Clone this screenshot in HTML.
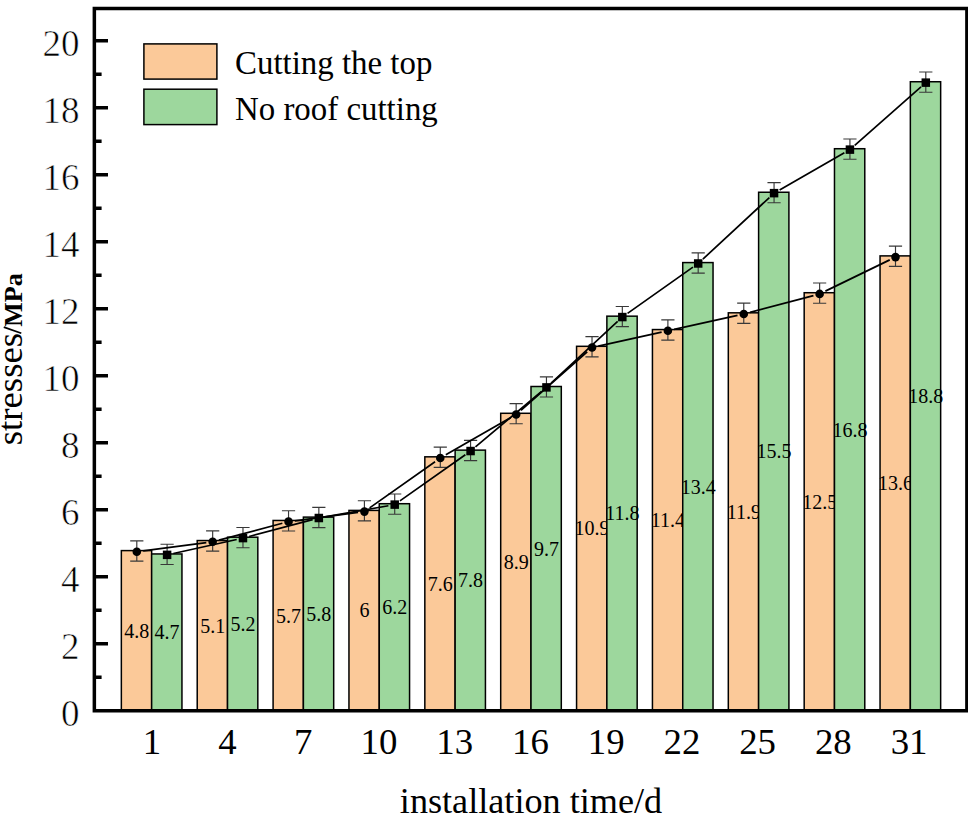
<!DOCTYPE html>
<html><head><meta charset="utf-8"><title>chart</title>
<style>
html,body{margin:0;padding:0;background:#fff;}
body{width:968px;height:814px;overflow:hidden;}
svg{display:block;}
text{font-family:"Liberation Serif",serif;fill:#000;}
</style></head><body>
<svg width="968" height="814" viewBox="0 0 968 814">
<rect x="0" y="0" width="968" height="814" fill="#fff"/>
<g stroke="#000" stroke-width="1.5">
<rect x="121.35" y="550.6" width="30.3" height="160.05" fill="#FBC999"/>
<rect x="197.22" y="540.55" width="30.3" height="170.1" fill="#FBC999"/>
<rect x="273.09" y="520.46" width="30.3" height="190.19" fill="#FBC999"/>
<rect x="348.96" y="510.41" width="30.3" height="200.24" fill="#FBC999"/>
<rect x="424.83" y="456.83" width="30.3" height="253.82" fill="#FBC999"/>
<rect x="500.7" y="413.29" width="30.3" height="297.36" fill="#FBC999"/>
<rect x="576.57" y="346.31" width="30.3" height="364.34" fill="#FBC999"/>
<rect x="652.44" y="329.56" width="30.3" height="381.09" fill="#FBC999"/>
<rect x="728.31" y="312.82" width="30.3" height="397.83" fill="#FBC999"/>
<rect x="804.18" y="292.72" width="30.3" height="417.93" fill="#FBC999"/>
<rect x="880.05" y="255.89" width="30.3" height="454.76" fill="#FBC999"/>
</g>
<g font-size="20" text-anchor="middle">
<text x="136.8" y="637.57">4.8</text>
<text x="212.67" y="632.55">5.1</text>
<text x="288.54" y="622.5">5.7</text>
<text x="364.41" y="617.48">6</text>
<text x="440.28" y="590.69">7.6</text>
<text x="516.15" y="568.92">8.9</text>
<text x="592.02" y="535.43">10.9</text>
<text x="667.89" y="527.06">11.4</text>
<text x="743.76" y="518.68">11.9</text>
<text x="819.63" y="508.64">12.5</text>
<text x="895.5" y="490.22">13.6</text>
</g>
<g stroke="#000" stroke-width="1.5">
<rect x="151.65" y="553.95" width="30.3" height="156.7" fill="#9DD79D"/>
<rect x="227.52" y="537.2" width="30.3" height="173.45" fill="#9DD79D"/>
<rect x="303.39" y="517.11" width="30.3" height="193.54" fill="#9DD79D"/>
<rect x="379.26" y="503.71" width="30.3" height="206.94" fill="#9DD79D"/>
<rect x="455.13" y="450.13" width="30.3" height="260.52" fill="#9DD79D"/>
<rect x="531" y="386.5" width="30.3" height="324.15" fill="#9DD79D"/>
<rect x="606.87" y="316.17" width="30.3" height="394.48" fill="#9DD79D"/>
<rect x="682.74" y="262.58" width="30.3" height="448.07" fill="#9DD79D"/>
<rect x="758.61" y="192.25" width="30.3" height="518.39" fill="#9DD79D"/>
<rect x="834.48" y="148.72" width="30.3" height="561.93" fill="#9DD79D"/>
<rect x="910.35" y="81.74" width="30.3" height="628.91" fill="#9DD79D"/>
</g>
<g font-size="20" text-anchor="middle">
<text x="167.1" y="639.25">4.7</text>
<text x="242.97" y="630.88">5.2</text>
<text x="318.84" y="620.83">5.8</text>
<text x="394.71" y="614.13">6.2</text>
<text x="470.58" y="587.34">7.8</text>
<text x="546.45" y="555.52">9.7</text>
<text x="622.32" y="520.36">11.8</text>
<text x="698.19" y="493.57">13.4</text>
<text x="774.06" y="458.4">15.5</text>
<text x="849.93" y="436.63">16.8</text>
<text x="925.8" y="403.14">18.8</text>
</g>
<g stroke="#383838" stroke-width="1.15" fill="none">
<path d="M136.8 540.9V561.1M130.2 540.9H143.4M130.2 561.1H143.4"/>
<path d="M212.67 530.85V551.05M206.07 530.85H219.27M206.07 551.05H219.27"/>
<path d="M288.54 510.76V530.96M281.94 510.76H295.14M281.94 530.96H295.14"/>
<path d="M364.41 500.71V520.91M357.81 500.71H371.01M357.81 520.91H371.01"/>
<path d="M440.28 447.13V467.33M433.68 447.13H446.88M433.68 467.33H446.88"/>
<path d="M516.15 403.59V423.79M509.55 403.59H522.75M509.55 423.79H522.75"/>
<path d="M592.02 336.61V356.81M585.42 336.61H598.62M585.42 356.81H598.62"/>
<path d="M667.89 319.86V340.06M661.29 319.86H674.49M661.29 340.06H674.49"/>
<path d="M743.76 303.12V323.32M737.16 303.12H750.36M737.16 323.32H750.36"/>
<path d="M819.63 283.02V303.23M813.03 283.02H826.23M813.03 303.23H826.23"/>
<path d="M895.5 246.19V266.39M888.9 246.19H902.1M888.9 266.39H902.1"/>
<path d="M167.1 544.25V564.45M160.5 544.25H173.7M160.5 564.45H173.7"/>
<path d="M242.97 527.5V547.7M236.37 527.5H249.57M236.37 547.7H249.57"/>
<path d="M318.84 507.41V527.61M312.24 507.41H325.44M312.24 527.61H325.44"/>
<path d="M394.71 494.01V514.21M388.11 494.01H401.31M388.11 514.21H401.31"/>
<path d="M470.58 440.43V460.63M463.98 440.43H477.18M463.98 460.63H477.18"/>
<path d="M546.45 376.8V397M539.85 376.8H553.05M539.85 397H553.05"/>
<path d="M622.32 306.47V326.67M615.72 306.47H628.92M615.72 326.67H628.92"/>
<path d="M698.19 252.88V273.08M691.59 252.88H704.79M691.59 273.08H704.79"/>
<path d="M774.06 182.55V202.75M767.46 182.55H780.66M767.46 202.75H780.66"/>
<path d="M849.93 139.02V159.22M843.33 139.02H856.53M843.33 159.22H856.53"/>
<path d="M925.8 72.04V92.24M919.2 72.04H932.4M919.2 92.24H932.4"/>
</g>
<g stroke="#000" stroke-width="1.7" fill="none">
<path d="M143.14 550.96L206.33 542.59M218.86 540.11L282.35 523.3M294.88 520.82L358.07 512.45M369.64 507.92L435.05 461.72M445.83 454.84L510.6 417.67M520.95 410.25L587.22 351.74M598.27 346.13L661.64 332.14M674.14 329.38L737.51 315.4M749.95 312.38L813.44 295.56M825.39 291.13L889.74 259.88"/>
<path d="M173.35 553.47L236.72 539.48M249.16 536.46L312.65 519.65M325.14 516.9L388.41 505.72M399.94 500.92L465.35 454.72M475.48 446.92L541.55 391.51M551.14 383.05L617.63 321.42M627.55 313.38L692.96 267.18M702.88 259.13L769.37 197.51M779.61 189.97L844.38 152.8M854.73 145.38L921 86.87"/>
</g>
<g fill="#000">
<circle cx="136.8" cy="551.8" r="4.3"/>
<circle cx="212.67" cy="541.75" r="4.3"/>
<circle cx="288.54" cy="521.66" r="4.3"/>
<circle cx="364.41" cy="511.61" r="4.3"/>
<circle cx="440.28" cy="458.03" r="4.3"/>
<circle cx="516.15" cy="414.49" r="4.3"/>
<circle cx="592.02" cy="347.51" r="4.3"/>
<circle cx="667.89" cy="330.76" r="4.3"/>
<circle cx="743.76" cy="314.02" r="4.3"/>
<circle cx="819.63" cy="293.92" r="4.3"/>
<circle cx="895.5" cy="257.09" r="4.3"/>
<rect x="162.85" y="550.6" width="8.5" height="8.5"/>
<rect x="238.72" y="533.85" width="8.5" height="8.5"/>
<rect x="314.59" y="513.76" width="8.5" height="8.5"/>
<rect x="390.46" y="500.36" width="8.5" height="8.5"/>
<rect x="466.33" y="446.78" width="8.5" height="8.5"/>
<rect x="542.2" y="383.15" width="8.5" height="8.5"/>
<rect x="618.07" y="312.82" width="8.5" height="8.5"/>
<rect x="693.94" y="259.23" width="8.5" height="8.5"/>
<rect x="769.81" y="188.9" width="8.5" height="8.5"/>
<rect x="845.68" y="145.37" width="8.5" height="8.5"/>
<rect x="921.55" y="78.39" width="8.5" height="8.5"/>
</g>
<g stroke="#000" stroke-width="3.5" fill="none">
<path d="M94.35 6.7V712.4M92.6 8.45H968M966.9 6.7V712.4M92.6 710.65H968"/>
<path d="M96 677.16H101.6M96 643.67H108M96 610.18H101.6M96 576.69H108M96 543.2H101.6M96 509.71H108M96 476.22H101.6M96 442.73H108M96 409.24H101.6M96 375.75H108M96 342.26H101.6M96 308.77H108M96 275.28H101.6M96 241.79H108M96 208.3H101.6M96 174.81H108M96 141.32H101.6M96 107.83H108M96 74.34H101.6M96 40.85H108"/>
</g>
<g font-size="37" text-anchor="end" stroke="#fff" stroke-width="0.6">
<text x="79.6" y="725.55">0</text>
<text x="79.6" y="658.57">2</text>
<text x="79.6" y="591.59">4</text>
<text x="79.6" y="524.61">6</text>
<text x="79.6" y="457.63">8</text>
<text x="79.6" y="390.65">10</text>
<text x="79.6" y="323.67">12</text>
<text x="79.6" y="256.69">14</text>
<text x="79.6" y="189.71">16</text>
<text x="79.6" y="122.73">18</text>
<text x="79.6" y="55.75">20</text>
</g>
<g font-size="36.8" text-anchor="middle">
<text x="151.85" y="754.2">1</text>
<text x="227.57" y="754.2">4</text>
<text x="303.29" y="754.2">7</text>
<text x="379.01" y="754.2">10</text>
<text x="454.73" y="754.2">13</text>
<text x="530.45" y="754.2">16</text>
<text x="606.17" y="754.2">19</text>
<text x="681.89" y="754.2">22</text>
<text x="757.61" y="754.2">25</text>
<text x="833.33" y="754.2">28</text>
<text x="909.05" y="754.2">31</text>
</g>
<text x="531" y="812.6" font-size="36.2" text-anchor="middle">installation time/d</text>
<g transform="translate(21.6 445.3) rotate(-90)">
<text x="0" y="0" font-size="36.8">stresses</text>
<line x1="112.1" y1="-0.3" x2="118.2" y2="-17.8" stroke="#000" stroke-width="1.7"/>
<text x="118.6" y="0" font-size="26" font-weight="bold">MPa</text>
</g>
<rect x="143.9" y="43.9" width="73" height="35.2" fill="#FBC999" stroke="#000" stroke-width="1.5"/>
<rect x="143.9" y="89.2" width="73" height="35.4" fill="#9DD79D" stroke="#000" stroke-width="1.5"/>
<text x="235" y="74" font-size="32.9">Cutting the top</text>
<text x="235" y="119.9" font-size="32.9">No roof cutting</text>
</svg>
</body></html>
